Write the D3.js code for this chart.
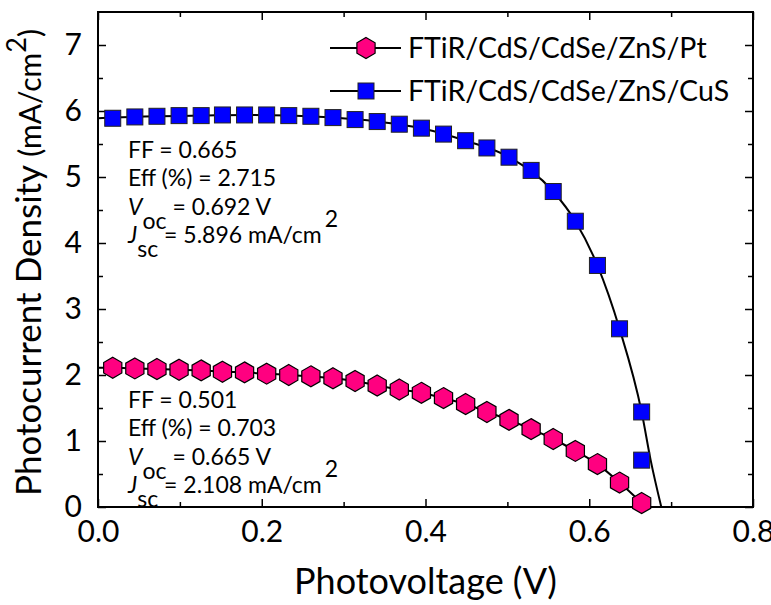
<!DOCTYPE html>
<html>
<head>
<meta charset="utf-8">
<script src="https://cdnjs.cloudflare.com/ajax/libs/d3/7.8.5/d3.min.js"></script>
<style>
body { margin: 0; background: #fff; }
text { font-family: Lato, "Open Sans", sans-serif; fill: #000; }
</style>
</head>
<body>
<div id="chart"></div>
<script>
// measured points (photovoltage in V, current density in mA/cm2)
var cusV = [0.018, 0.045, 0.072, 0.099, 0.126, 0.152, 0.179, 0.206, 0.233, 0.260, 0.287, 0.314, 0.341,
            0.368, 0.395, 0.422, 0.449, 0.475, 0.502, 0.529, 0.556, 0.583, 0.610, 0.637, 0.664, 0.664];
var cusJ = [5.89, 5.91, 5.92, 5.93, 5.93, 5.94, 5.94, 5.94, 5.93, 5.92, 5.90, 5.87, 5.84,
            5.80, 5.74, 5.65, 5.55, 5.44, 5.30, 5.10, 4.78, 4.33, 3.66, 2.70, 1.44, 0.71];
var ptV = [0.018, 0.045, 0.072, 0.099, 0.126, 0.152, 0.179, 0.206, 0.233, 0.260, 0.287, 0.314, 0.341,
           0.368, 0.395, 0.422, 0.449, 0.475, 0.502, 0.529, 0.556, 0.583, 0.610, 0.637, 0.664];
var ptJ = [2.11, 2.10, 2.09, 2.08, 2.07, 2.05, 2.04, 2.02, 2.00, 1.98, 1.95, 1.91, 1.84,
           1.78, 1.73, 1.65, 1.56, 1.44, 1.32, 1.18, 1.03, 0.85, 0.65, 0.37, 0.06];
// drawn curves (black lines)
var cusFitV = [0, 0.018, 0.072, 0.126, 0.179, 0.233, 0.287, 0.341, 0.395, 0.449, 0.502, 0.556, 0.583, 0.610, 0.637, 0.664, 0.675, 0.688];
var cusFitJ = [5.89, 5.90, 5.92, 5.93, 5.94, 5.93, 5.90, 5.84, 5.74, 5.55, 5.30, 4.78, 4.33, 3.66, 2.70, 1.44, 0.71, 0];
var ptLineV = [0].concat(ptV);
var ptLineJ = [2.11].concat(ptJ);

var seriesNames = ["FTiR/CdS/CdSe/ZnS/Pt", "FTiR/CdS/CdSe/ZnS/CuS"];
var cusStats = ["0.665", "2.715", "0.692", "5.896"];
var ptStats = ["0.501", "0.703", "0.665", "2.108"];
var xTicks = [0, 0.2, 0.4, 0.6, 0.8];
var xMinor = [0.1, 0.3, 0.5, 0.7];
var yTicks = [0, 1, 2, 3, 4, 5, 6, 7];
var yMinor = [0.5, 1.5, 2.5, 3.5, 4.5, 5.5, 6.5];

var W = 771, H = 605;
var margin = {left: 98, right: 18, top: 12, bottom: 98};
var pw = W - margin.left - margin.right, ph = H - margin.top - margin.bottom;

var svg = d3.select("#chart").append("svg").attr("width", W).attr("height", H);
var g = svg.append("g").attr("transform", "translate(" + margin.left + "," + margin.top + ")");

var x = d3.scaleLinear().domain([0, 0.8]).range([0, pw]);
var y = d3.scaleLinear().domain([0, 7.5]).range([ph, 0]);

// axes, ticks pointing inside, mirrored on top/right
function styleAxis(sel) {
	sel.select(".domain").remove();
	sel.selectAll(".tick line").attr("stroke", "#000").attr("stroke-width", 1.5);
	sel.selectAll(".tick text").style("font-size", "30px").attr("fill", "#000");
}
g.append("g").attr("transform", "translate(0," + ph + ")")
	.call(d3.axisBottom(x).tickValues(xTicks).tickSize(-8).tickPadding(9).tickFormat(d3.format(".1f")))
	.call(styleAxis)
	.selectAll(".tick text").attr("dy", "0.85em");
g.append("g").attr("transform", "translate(0," + ph + ")")
	.call(d3.axisBottom(x).tickValues(xMinor).tickSize(-5).tickFormat("")).call(styleAxis);
g.append("g").call(d3.axisTop(x).tickValues(xTicks).tickSize(-8).tickFormat("")).call(styleAxis);
g.append("g").call(d3.axisTop(x).tickValues(xMinor).tickSize(-5).tickFormat("")).call(styleAxis);

g.append("g")
	.call(d3.axisLeft(y).tickValues(yTicks).tickSize(-8).tickPadding(16).tickFormat(d3.format("d")))
	.call(styleAxis);
g.append("g").call(d3.axisLeft(y).tickValues(yMinor).tickSize(-5).tickFormat("")).call(styleAxis);
g.append("g").attr("transform", "translate(" + pw + ",0)")
	.call(d3.axisRight(y).tickValues(yTicks).tickSize(-8).tickFormat("")).call(styleAxis);
g.append("g").attr("transform", "translate(" + pw + ",0)")
	.call(d3.axisRight(y).tickValues(yMinor).tickSize(-5).tickFormat("")).call(styleAxis);

g.append("rect").attr("width", pw).attr("height", ph)
	.attr("fill", "none").attr("stroke", "#000").attr("stroke-width", 2);

// axis titles
svg.append("text").attr("x", margin.left + pw / 2).attr("y", 594)
	.attr("text-anchor", "middle").style("font-size", "36px").text("Photovoltage (V)");
var yt = svg.append("text").attr("transform", "translate(41," + (margin.top + ph / 2 + 3) + ") rotate(-90)")
	.attr("text-anchor", "middle").style("font-size", "35px");
yt.append("tspan").text("Photocurrent Density ");
yt.append("tspan").style("font-size", "30px").text("(mA/cm");
yt.append("tspan").attr("dy", -15).style("font-size", "27px").text("2");
yt.append("tspan").attr("dy", 15).style("font-size", "30px").text(")");

// lines
var line = d3.line().x(function(d) { return x(d[0]); }).y(function(d) { return y(d[1]); })
	.curve(d3.curveMonotoneX);
var plot = g.append("g");
plot.append("path").datum(d3.zip(cusFitV, cusFitJ)).attr("d", line)
	.attr("fill", "none").attr("stroke", "#000").attr("stroke-width", 2);
plot.append("path").datum(d3.zip(ptLineV, ptLineJ)).attr("d", line)
	.attr("fill", "none").attr("stroke", "#000").attr("stroke-width", 2);

// markers
var sq = 16;
function hexPath(r) {
	var pts = d3.range(6).map(function(i) {
		var a = (-90 + 60 * i) * Math.PI / 180;
		return [r * Math.cos(a), r * Math.sin(a)];
	});
	return "M" + pts.join("L") + "Z";
}
plot.selectAll(".sq").data(d3.zip(cusV, cusJ)).enter().append("rect")
	.attr("x", function(d) { return x(d[0]) - sq / 2; })
	.attr("y", function(d) { return y(d[1]) - sq / 2; })
	.attr("width", sq).attr("height", sq)
	.attr("fill", "#0000ff").attr("stroke", "#222").attr("stroke-width", 1);
plot.selectAll(".hex").data(d3.zip(ptV, ptJ)).enter().append("path")
	.attr("d", hexPath(10.5))
	.attr("transform", function(d) { return "translate(" + x(d[0]) + "," + y(d[1]) + ")"; })
	.attr("fill", "#ff0080").attr("stroke", "#000").attr("stroke-width", 1.2);

// stats text
function stats(x0, y0, vals) {
	var t = svg.append("g").style("font-size", "23px");
	t.append("text").attr("x", x0).attr("y", y0).text("FF = " + vals[0]);
	t.append("text").attr("x", x0).attr("y", y0 + 28).text("Eff (%) = " + vals[1]);
	var v = t.append("text").attr("x", x0).attr("y", y0 + 57);
	v.append("tspan").style("font-style", "italic").text("V");
	v.append("tspan").attr("dy", 14).text("oc");
	v.append("tspan").attr("dy", -14).text(" = " + vals[2] + " V");
	var j = t.append("text").attr("x", x0).attr("y", y0 + 85);
	j.append("tspan").style("font-style", "italic").text("J");
	j.append("tspan").attr("dy", 14).text("sc");
	j.append("tspan").attr("dy", -14).text(" = " + vals[3] + " mA/cm");
	j.append("tspan").attr("dx", 3).attr("dy", -16).text("2");
}
stats(128, 158, cusStats);
stats(128, 408, ptStats);

// legend
var leg = svg.append("g");
var legY = [48, 91];
leg.selectAll("line").data(legY).enter().append("line")
	.attr("x1", 330).attr("x2", 401).attr("y1", function(d) { return d; }).attr("y2", function(d) { return d; })
	.attr("stroke", "#000").attr("stroke-width", 2);
leg.append("path").attr("d", hexPath(10.5)).attr("transform", "translate(366," + legY[0] + ")")
	.attr("fill", "#ff0080").attr("stroke", "#000").attr("stroke-width", 1.2);
leg.append("rect").attr("x", 366 - sq / 2).attr("y", legY[1] - sq / 2).attr("width", sq).attr("height", sq)
	.attr("fill", "#0000ff").attr("stroke", "#222").attr("stroke-width", 1);
leg.selectAll("text").data(seriesNames).enter().append("text")
	.attr("x", 408).attr("y", function(d, i) { return legY[i] + 10; })
	.style("font-size", "28.5px").text(function(d) { return d; });
</script>
</body>
</html>
